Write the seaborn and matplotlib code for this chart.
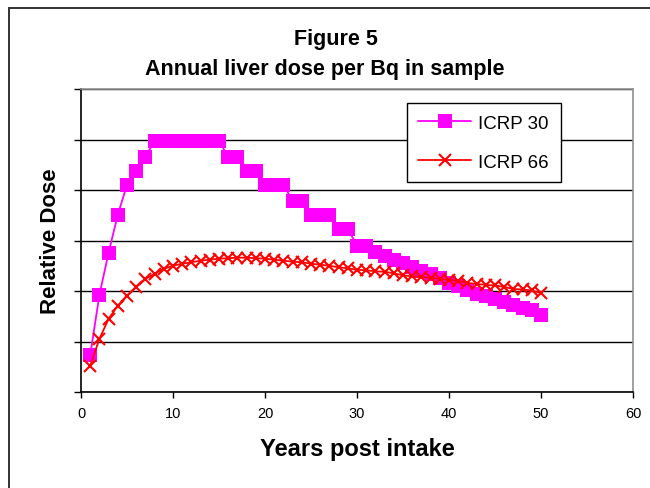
import numpy as np
import pandas as pd
import seaborn as sns
import matplotlib.pyplot as plt
from matplotlib.patches import Rectangle

years = list(range(1, 51))
icrp30 = [0.73, 1.92, 2.76, 3.51, 4.10, 4.38, 4.66, 4.97, 4.97, 4.97,
          4.97, 4.97, 4.97, 4.97, 4.97, 4.66, 4.66, 4.37, 4.37, 4.10,
          4.10, 4.10, 3.79, 3.79, 3.50, 3.50, 3.50, 3.23, 3.23, 2.90,
          2.90, 2.78, 2.70, 2.62, 2.55, 2.48, 2.40, 2.33, 2.25, 2.15,
          2.10, 2.02, 1.95, 1.90, 1.85, 1.78, 1.72, 1.66, 1.62, 1.52]
icrp66 = [0.52, 1.05, 1.45, 1.71, 1.91, 2.08, 2.24, 2.34, 2.44, 2.50,
          2.54, 2.57, 2.60, 2.62, 2.64, 2.65, 2.66, 2.66, 2.65, 2.64,
          2.62, 2.60, 2.58, 2.57, 2.54, 2.52, 2.50, 2.47, 2.45, 2.42,
          2.41, 2.39, 2.38, 2.35, 2.31, 2.29, 2.28, 2.26, 2.24, 2.22,
          2.20, 2.16, 2.14, 2.12, 2.11, 2.08, 2.04, 2.03, 2.01, 1.96]
xticks = [0, 10, 20, 30, 40, 50, 60]

sns.set_style("white")
plt.rcParams['font.family'] = ['Liberation Sans', 'DejaVu Sans']
plt.rcParams['text.color'] = 'black'
plt.rcParams['axes.labelcolor'] = 'black'
plt.rcParams['xtick.color'] = 'black'
plt.rcParams['ytick.color'] = 'black'

df = pd.DataFrame({'year': years, 'ICRP 30': icrp30, 'ICRP 66': icrp66})

fig = plt.figure(figsize=(6.5, 4.89), dpi=100)
ax = fig.add_axes([81/650, 1 - 393/489, (633-81)/650, (393-90)/489])

# outer chart frame (only left/top edges visible in the picture)
fig.patches.append(Rectangle((9/650, -0.2), 1.2, 1 - 9/489 + 0.2,
                             transform=fig.transFigure, fill=False,
                             edgecolor='#333333', linewidth=1.4))

sns.lineplot(data=df, x='year', y='ICRP 30', ax=ax, color='#ff00ff',
             marker='s', markersize=9.5, markeredgewidth=0, linewidth=1.3,
             label='ICRP 30')
sns.lineplot(data=df, x='year', y='ICRP 66', ax=ax, color='#ff0000',
             marker='x', markersize=8, markeredgewidth=1.5,
             markeredgecolor='#ff0000', linewidth=1.3, label='ICRP 66')

ax.set_xlim(0, 60)
ax.set_ylim(0, 6)
ax.set_xticks(xticks)
ax.set_yticks(range(0, 7))
ax.set_yticklabels([])
ax.yaxis.grid(True, color='black', linewidth=1)
ax.tick_params(axis='x', direction='out', length=4, width=1, labelsize=10.5,
               bottom=True, pad=6)
ax.tick_params(axis='y', direction='out', length=5, width=1, left=True)
for s in ['left', 'bottom']:
    ax.spines[s].set_color('black')
    ax.spines[s].set_linewidth(1.2)
for s in ['top', 'right']:
    ax.spines[s].set_color('#909090')
    ax.spines[s].set_linewidth(1.2)

ax.set_xlabel('Years post intake', fontsize=17, fontweight='bold', labelpad=12)
ax.set_ylabel('Relative Dose', fontsize=16, fontweight='bold', labelpad=6)

fig.text(336/650, 1 - 40/489, 'Figure 5', ha='center',
         va='center', fontsize=15.5, fontweight='bold')
fig.text(325/650, 1 - 70/489,
         'Annual liver dose per Bq in sample', ha='center', va='center',
         fontsize=15.5, fontweight='bold')

leg = ax.legend(loc='upper left', bbox_to_anchor=(0.59, 0.954),
                borderaxespad=0, fontsize=13.5, frameon=True, fancybox=False,
                handlelength=2.8, handletextpad=0.4, labelspacing=1.17,
                borderpad=0.62)
leg.get_frame().set_edgecolor('black')
leg.get_frame().set_linewidth(1)
leg.get_frame().set_alpha(1)

fig.savefig('out.png', dpi=100)
